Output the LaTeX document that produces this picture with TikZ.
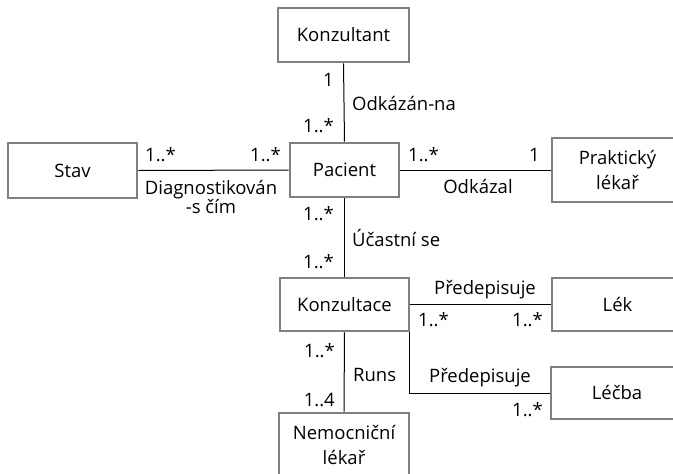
\documentclass[tikz,border=0pt]{standalone}
\usepackage{fontspec}
\setmainfont{Open Sans}
\begin{document}
\begin{tikzpicture}[x=1pt,y=-1pt,
  every node/.style={font=\fontsize{18.5}{25}\selectfont},
  cls/.style={draw=black!50, line width=2.6pt, fill=white, align=center, inner sep=2pt},
  assoc/.style={draw=black, line width=1pt},
  lbl/.style={inner sep=0pt, align=center},
  lbl-l/.style={inner sep=0pt, anchor=west},
  lbl-r/.style={inner sep=0pt, anchor=east}]
\useasboundingbox (0,0) rectangle (673,474);
\clip (0,0) rectangle (673,474);

% classes
\node[cls, minimum width=131pt, minimum height=54pt] (konzultant) at (343.5,35) {Konzultant};
\node[cls, minimum width=129pt, minimum height=55pt] (stav) at (72.5,170.5) {Stav};
\node[cls, minimum width=109pt, minimum height=54pt] (pacient) at (344.5,170) {Pacient};
\node[cls, minimum width=131pt, minimum height=64pt] (prakticky) at (617.5,170) {Praktický\\lékař};
\node[cls, minimum width=129pt, minimum height=53pt] (konzultace) at (344.5,304.5) {Konzultace};
\node[cls, minimum width=131pt, minimum height=53pt] (lek) at (617.5,304.5) {Lék};
\node[cls, minimum width=132pt, minimum height=52pt] (lecba) at (617,393) {Léčba};
\node[cls, minimum width=130pt, minimum height=64pt] (nemocnicni) at (344,445) {Nemocniční\\lékař};

% associations
\draw[assoc] (konzultant.south) -- (pacient.north);
\draw[assoc] (stav.east) -- (pacient.west);
\draw[assoc] (pacient.east) -- (prakticky.west);
\draw[assoc] (pacient.south) -- (konzultace.north);
\draw[assoc] (konzultace.east) -- (lek.west);
\draw[assoc] (konzultace.south) -- (nemocnicni.north);
\coordinate (rx) at ([xshift=-1.3pt]konzultace.south east);
\draw[assoc] (rx) |- (lecba.west);

% Konzultant -- Pacient
\node[lbl-r] (m1) at (334,80) {1};
\node[lbl-l] (a1) at (352,104) {Odkázán-na};
\node[lbl-r] (m2) at (334,126) {1..*};

% Stav -- Pacient
\node[lbl-l] (m3) at (145,155) {1..*};
\node[lbl-r] (m4) at (281,155) {1..*};
\node[lbl, font=\fontsize{18.5}{19}\selectfont] (a2) at (211,197) {Diagnostikován\\-s čím};

% Pacient -- Praktický lékař
\node[lbl-l] (m5) at (408,155) {1..*};
\node[lbl-r] (m6) at (540,155) {1};
\node[lbl] (a3) at (478,187) {Odkázal};

% Pacient -- Konzultace
\node[lbl-r] (m7) at (334,214) {1..*};
\node[lbl-l] (a4) at (352,238) {Účastní se};
\node[lbl-r] (m8) at (334,262) {1..*};

% Konzultace -- Lék
\node[lbl] (a5) at (485,290) {Předepisuje};
\node[lbl-l] (m9) at (418,320) {1..*};
\node[lbl-r] (m10) at (543,320) {1..*};

% Konzultace -- Nemocniční lékař
\node[lbl-r] (m11) at (335,351) {1..*};
\node[lbl-l] (a6) at (353,375) {Runs};
\node[lbl-r] (m12) at (335,400) {1..4};

% Konzultace -- Léčba
\node[lbl] (a7) at (480,378) {Předepisuje};
\node[lbl-r] (m13) at (543,410) {1..*};
\end{tikzpicture}
\end{document}
